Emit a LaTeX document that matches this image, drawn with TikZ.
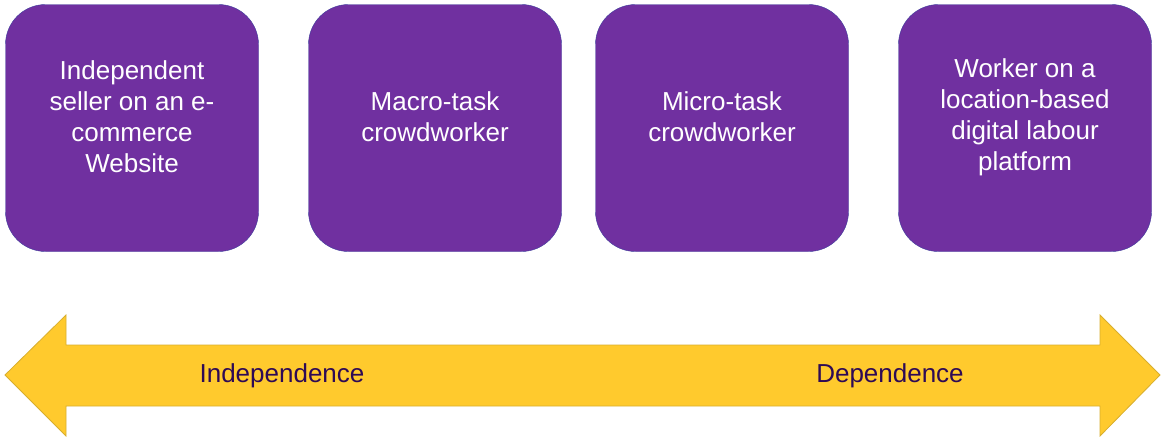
\documentclass[tikz,border=0pt]{standalone}
\usepackage{fontspec}
\setmainfont{Liberation Sans}
\definecolor{boxpurple}{HTML}{7030A0}
\definecolor{boxedge}{HTML}{3C3C9C}
\definecolor{arrowgold}{HTML}{FFCA2D}
\definecolor{arrowedge}{HTML}{D8AE2E}
\definecolor{labelpurple}{HTML}{2E0A55}
\newcommand{\bw}{253pt}
\newcommand{\bh}{247pt}

\begin{document}
\begin{tikzpicture}[x=1pt,y=-1pt,
    worker/.style={draw=boxedge, fill=boxpurple, rectangle, rounded corners=40pt, minimum width=\bw, minimum height=\bh, inner sep=0pt},
    workertext/.style={text=white, align=center, font=\fontsize{26}{31}\selectfont},
    scalelabel/.style={text=labelpurple, font=\fontsize{26}{31}\selectfont}]
    \useasboundingbox (0,0) rectangle (1162,437);

    % Boxes
    \node[worker] (box-1) at (132,128) {};
    \node[worker] (box-2) at (435,128) {};
    \node[worker] (box-3) at (722,128) {};
    \node[worker] (box-4) at (1025,128) {};

    % Box texts
    \node[workertext] (text-1) at (132,117) {Independent\\seller on an e-\\commerce\\Website};
    \node[workertext] (text-2) at (435,117) {Macro-task\\crowdworker};
    \node[workertext] (text-3) at (722,117) {Micro-task\\crowdworker};
    \node[workertext] (text-4) at (1025,117) {Worker on a\\location-based\\digital labour\\platform};

    % Double arrow
    \draw[draw=arrowedge, fill=arrowgold, line width=0.8pt] (5,375) -- (66,315) -- (66,345) -- (1100,345) -- (1100,315)
        -- (1160,375) -- (1100,436) -- (1100,406) -- (66,406) -- (66,436) -- cycle;

    % Scale labels
    \node[scalelabel] (label-1) at (282,376) {Independence};
    \node[scalelabel] (label-2) at (890,376) {Dependence};
\end{tikzpicture}
\end{document}
